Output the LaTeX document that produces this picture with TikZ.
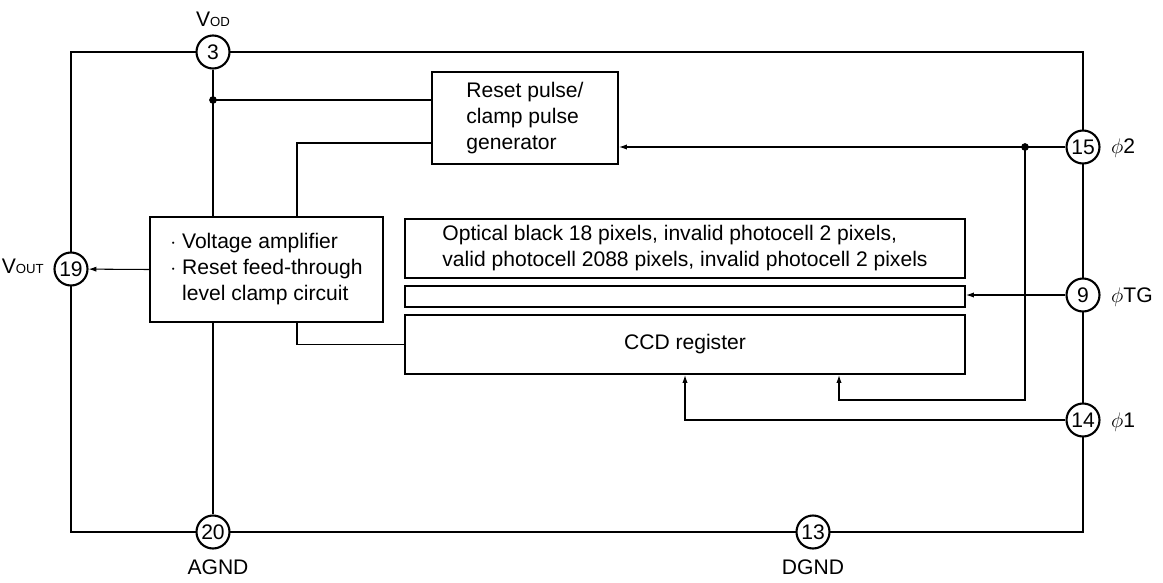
\documentclass[tikz,border=0pt]{standalone}
\usepackage{fontspec}
\setmainfont{Liberation Sans}
\usetikzlibrary{arrows.meta}
\newcommand{\lowcap}[1]{{\fontsize{7.5}{8}\selectfont #1}}
\begin{document}
\begin{tikzpicture}[x=0.02cm,y=-0.02cm,
        every node/.style={font=\fontsize{12}{14.8}\selectfont},
        pincirc/.style={draw,circle,line width=1.2pt,fill=white,minimum size=0.66cm,inner sep=0pt},
        blk/.style={draw,line width=1.2pt,align=left},
        wire/.style={line width=0.6pt},
        sig/.style={wire,-{Latex[length=4.5pt,width=3pt]}}]
                \useasboundingbox (0,0) rectangle (1163,582);
                %% package outline
                \draw[line width=1.3pt] (71,52) rectangle (1083,532);
                %% pins
                \node[pincirc] (p3) at (213,52) {3};
                \node[pincirc] (p19) at (71,269) {19};
                \node[pincirc] (p20) at (213,532) {20};
                \node[pincirc] (p13) at (813,532) {13};
                \node[pincirc] (p15) at (1083,147) {15};
                \node[pincirc] (p9) at (1083,295) {9};
                \node[pincirc] (p14) at (1083,420) {14};
                %% pin names
                \node[anchor=base] (lvod) at (213,26) {V\lowcap{OD}};
                \node[anchor=base east] (lvout) at (50,273) {V\lowcap{OUT}};
                \node[anchor=base] (lagnd) at (218,574) {AGND};
                \node[anchor=base] (ldgnd) at (813,574) {DGND};
                \node[anchor=base west] (lphi2) at (1105,153) {$\phi$2};
                \node[anchor=base west] (lphitg) at (1105,302) {$\phi$TG};
                \node[anchor=base west] (lphi1) at (1105,427) {$\phi$1};
                %% blocks
                \node[blk,minimum width=3.72cm,minimum height=1.84cm] (rst) at (525,118)
                    {Reset pulse/\\clamp pulse\\generator};
                \node[blk,minimum width=4.66cm,minimum height=2.1cm] (amp) at (266.5,269.5)
                    {$\cdot$ Voltage amplifier\\$\cdot$ Reset feed-through\\\phantom{$\cdot$ }level clamp circuit};
                \node[blk,minimum width=11.2cm,minimum height=1.18cm] (cells) at (685,248.5)
                    {Optical black 18 pixels, invalid photocell 2 pixels,\\valid photocell 2088 pixels, invalid photocell 2 pixels};
                \node[blk,minimum width=11.2cm,minimum height=0.42cm,inner sep=0pt] (tg) at (685,296.5) {};
                \node[blk,minimum width=11.2cm,minimum height=1.18cm] (ccd) at (685,344.5) {CCD register};
                %% junctions
                \coordinate (j3) at (213,100);
                \coordinate (j15) at (1025,147);
                \coordinate (a1) at (297,143);
                \coordinate (k2) at (839,400);
                %% supply and ground
                \draw[wire] (p3) -- (j3) -- (j3 -| rst.west);
                \draw[wire] (j3) -- (j3 |- amp.north);
                \draw[wire] (j3 |- amp.south) -- (p20);
                \fill (j3) circle (2.2pt);
                %% amplifier links
                \draw[wire] (a1 |- amp.north) -- (a1) -- (a1 -| rst.west);
                \draw[wire] (a1 |- amp.south) |- (ccd.west);
                \draw[sig] (amp.west) -- (p19);
                %% clocks
                \draw[sig] (p15) -- (p15 -| rst.east);
                \fill (j15) circle (2.2pt);
                \draw[sig] (j15) |- (k2) -- (k2 |- ccd.south);
                \draw[sig] (p9) -- (p9 -| tg.east);
                \draw[sig] (p14) -| (ccd.south);
            \end{tikzpicture}
\end{document}
